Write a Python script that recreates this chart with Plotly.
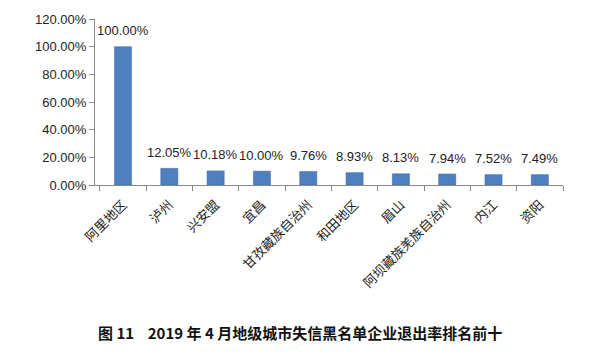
import plotly.graph_objects as go

categories = ["阿里地区", "泸州", "兴安盟", "宜昌", "甘孜藏族自治州", "和田地区", "眉山",
              "阿坝藏族羌族自治州", "内江", "资阳"]
values = [1.0, 0.1205, 0.1018, 0.1000, 0.0976, 0.0893, 0.0813, 0.0794, 0.0752, 0.0749]
value_labels = ["100.00%", "12.05%", "10.18%", "10.00%", "9.76%", "8.93%", "8.13%",
                "7.94%", "7.52%", "7.49%"]
y_ticks = [0, 0.2, 0.4, 0.6, 0.8, 1.0, 1.2]
caption = "图 11&nbsp;&nbsp;&nbsp;&nbsp;2019 年 4 月地级城市失信黑名单企业退出率排名前十"

fig = go.Figure(go.Bar(
    x=categories, y=values,
    marker=dict(color="#4F7FBE", line=dict(color="#3A68A8", width=0.5)),
    width=0.37, cliponaxis=False, hoverinfo="skip",
))

annotations = [
    dict(x=c, y=v, text=t, xref="x", yref="y", showarrow=False,
         yanchor="middle", yshift=16,
         font=dict(size=13, color="#222", family="Liberation Sans, Arial"))
    for c, v, t in zip(categories, values, value_labels)
]
annotations.append(dict(
    text="<b>" + caption + "</b>", xref="paper", yref="paper",
    x=0.438, y=-0.89, xanchor="center", yanchor="middle", showarrow=False,
    font=dict(size=15, family="Noto Sans CJK SC", color="#111"),
))

fig.update_layout(
    width=600, height=362,
    margin=dict(l=95, r=37, t=19, b=177),
    plot_bgcolor="white", paper_bgcolor="white",
    showlegend=False,
    font=dict(family="Noto Sans CJK SC", color="#222"),
    xaxis=dict(
        tickangle=-45, showline=True, linecolor="#888", linewidth=1,
        ticks="outside", ticklen=5, tickcolor="#888", tickson="boundaries",
        tickfont=dict(size=13, family="Noto Sans CJK SC", color="#222"),
        ticklabelstandoff=6,
        showgrid=False, automargin=False,
    ),
    yaxis=dict(
        range=[0, 1.2], tickvals=y_ticks, tickformat=".2%",
        showline=True, linecolor="#888", linewidth=1,
        ticks="outside", ticklen=5, tickcolor="#888",
        tickfont=dict(size=13, family="Liberation Sans, Arial", color="#222"),
        showgrid=False, zeroline=False, automargin=False,
    ),
    annotations=annotations,
)

fig.write_html("out.html", config={"displayModeBar": False},
               post_script="document.body.style.margin='0';document.body.style.overflow='hidden';")
